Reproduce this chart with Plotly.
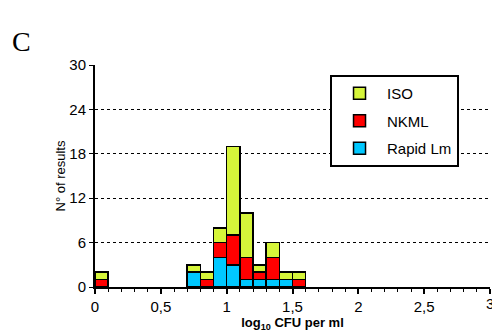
import plotly.graph_objects as go

# bin starts (log10 CFU per ml), bin width 0.1
bin_start = [0.0, 0.7, 0.8, 0.9, 1.0, 1.1, 1.2, 1.3, 1.4, 1.5]
rapid_lm = [0, 2, 0, 4, 3, 1, 1, 1, 1, 0]
nkml     = [1, 0, 1, 2, 4, 3, 1, 3, 0, 1]
iso      = [1, 1, 1, 2, 12, 6, 1, 2, 1, 1]
bin_width = 0.1

y_ticks = [0, 6, 12, 18, 24, 30]
x_ticks = [0, 0.5, 1, 1.5, 2, 2.5]
x_tick_labels = ["0", "0,5", "1", "1,5", "2", "2,5"]
x_last_tick = 3

centers = [b + bin_width / 2 for b in bin_start]

def nz(vals):
    return [v if v else None for v in vals]

fig = go.Figure()
series = [("Rapid Lm", rapid_lm, "#00c8ff", 3), ("NKML", nkml, "#ff0000", 2), ("ISO", iso, "#d6f53a", 1)]
for name, vals, col, rank in series:
    fig.add_trace(go.Bar(
        x=centers, y=nz(vals), name=name, width=bin_width,
        marker=dict(color=col, line=dict(color="black", width=1.5)),
        legendgroup=name, legendrank=rank,
    ))

fig.update_layout(
    width=492, height=332,
    margin=dict(l=95, r=2, t=65, b=45),
    barmode="stack",
    paper_bgcolor="white", plot_bgcolor="white",
    font=dict(family="Arial, Liberation Sans, sans-serif", size=15, color="black"),
    legend=dict(
        x=0.595, y=0.955, xanchor="left", yanchor="top",
        bgcolor="white", bordercolor="black", borderwidth=2,
        traceorder="grouped", tracegroupgap=5,
        font=dict(size=15), entrywidth=125, itemwidth=45,
    ),
    showlegend=True,
)
fig.update_xaxes(
    range=[0, 3], tickmode="array", tickvals=x_ticks + [x_last_tick],
    ticktext=x_tick_labels + [""],
    showline=True, linecolor="black", linewidth=2,
    ticks="outside", ticklen=5, tickwidth=1.5, tickcolor="black",
    minor=dict(dtick=0.1, ticks="outside", ticklen=3, tickcolor="black", tickwidth=1),
    showgrid=False, zeroline=False,
    title=dict(text="<b>log<sub>10</sub> CFU per ml</b>", font=dict(size=13), standoff=2),
)
fig.update_yaxes(
    range=[0, 30], tickmode="array", tickvals=y_ticks,
    showline=True, linecolor="black", linewidth=2,
    ticks="outside", ticklen=4, tickwidth=1, tickcolor="black",
    showgrid=True, gridcolor="black", gridwidth=1, griddash="3px,3px",
    zeroline=False,
    title=dict(text="N° of results", font=dict(size=13), standoff=1),
)
# last x tick label, partly cut by the right edge as in the reference
fig.add_annotation(
    text=str(x_last_tick), xref="x", yref="paper", x=x_last_tick, y=0,
    yshift=-6, xanchor="center", yanchor="top", showarrow=False,
    font=dict(size=15),
)
fig.add_annotation(
    text="C", xref="paper", yref="paper", x=-0.215, y=1.104,
    xanchor="left", yanchor="middle", showarrow=False,
    font=dict(family="Times New Roman, Liberation Serif, serif", size=28, color="black"),
)
fig.write_html("out.html")
